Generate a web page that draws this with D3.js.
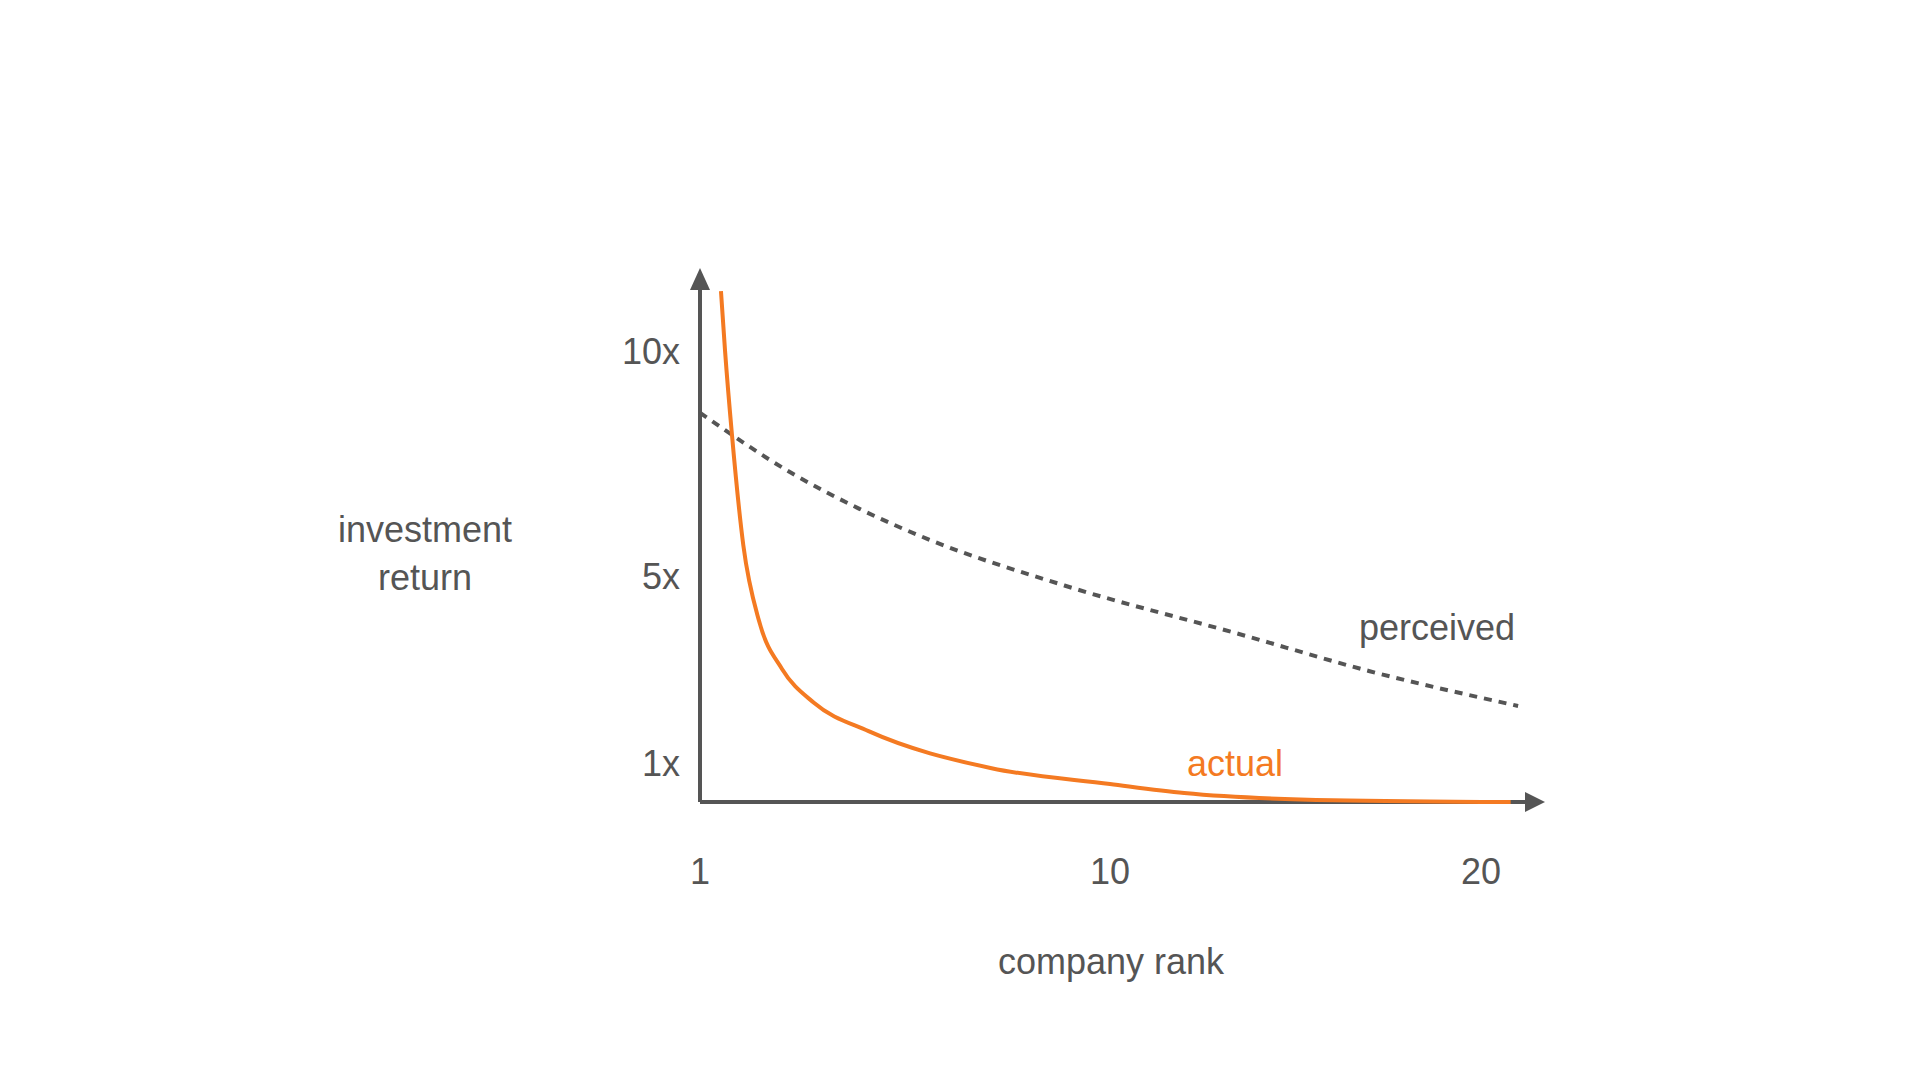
<!DOCTYPE html><html><head><meta charset="utf-8"><script src="https://cdn.jsdelivr.net/npm/d3@7"></script>
<style>body{margin:0;background:#fff}text{font-family:"Liberation Sans",Arial,sans-serif;fill:#555}</style></head><body><svg width="1920" height="1080"></svg>
<script>
const xTicks=[1,10,20], xTickLabels=["1","10","20"];
const yTicks=[1,5,10], yTickLabels=["1x","5x","10x"];
const actualRank=[1.46,1.55,1.7,1.95,2.3,2.8,3.5,4.7,7.4,10,12,16,20.8];
const actualVal=[11.33,10,8.16,5.7,4.0,2.95,2.2,1.57,0.75,0.4,0.2,0.04,0];
const perceivedRank=[1,3,4.5,6,9,13.5,17,21];
const perceivedVal=[8.63,7.3,6.5,5.83,4.8,3.72,2.9,2.13];
const svg=d3.select("svg");
const x=d3.scaleLinear().domain([1,10,20]).range([700,1110,1481]);
const y=d3.scaleLinear().domain([0,10]).range([802,351]);
const g="#555";
svg.append("line").attr("x1",x(1)).attr("x2",1530).attr("y1",y(0)).attr("y2",y(0)).attr("stroke",g).attr("stroke-width",4);
svg.append("line").attr("x1",x(1)).attr("x2",x(1)).attr("y1",y(0)).attr("y2",285).attr("stroke",g).attr("stroke-width",4);
svg.append("path").attr("d","M1545,802 L1525,792 L1525,812 Z").attr("fill",g);
svg.append("path").attr("d","M700,268 L690,290 L710,290 Z").attr("fill",g);
const line=d3.line().x(d=>x(d[0])).y(d=>y(d[1])).curve(d3.curveMonotoneX);
svg.append("path").datum(perceivedRank.map((r,i)=>[r,perceivedVal[i]])).attr("d",line).attr("fill","none").attr("stroke",g).attr("stroke-width",4).attr("stroke-dasharray","8,7");
svg.append("path").datum(actualRank.map((r,i)=>[r,actualVal[i]])).attr("d",line).attr("fill","none").attr("stroke","#f47a22").attr("stroke-width",4);
xTicks.forEach((t,i)=>svg.append("text").attr("x",x(t)).attr("y",871).attr("text-anchor","middle").attr("dominant-baseline","central").attr("font-size",36).text(xTickLabels[i]));
yTicks.forEach((t,i)=>svg.append("text").attr("x",680).attr("y",t===1?763:y(t)).attr("text-anchor","end").attr("dominant-baseline","central").attr("font-size",36).text(yTickLabels[i]));
svg.append("text").attr("x",425).attr("y",529).attr("text-anchor","middle").attr("dominant-baseline","central").attr("font-size",36).text("investment");
svg.append("text").attr("x",425).attr("y",577).attr("text-anchor","middle").attr("dominant-baseline","central").attr("font-size",36).text("return");
svg.append("text").attr("x",1111).attr("y",961).attr("text-anchor","middle").attr("dominant-baseline","central").attr("font-size",36).text("company rank");
svg.append("text").attr("x",1437).attr("y",627).attr("text-anchor","middle").attr("dominant-baseline","central").attr("font-size",36).text("perceived");
svg.append("text").attr("x",1235).attr("y",763).attr("text-anchor","middle").attr("dominant-baseline","central").attr("font-size",36).style("fill","#f47a22").text("actual");
</script></body></html>
